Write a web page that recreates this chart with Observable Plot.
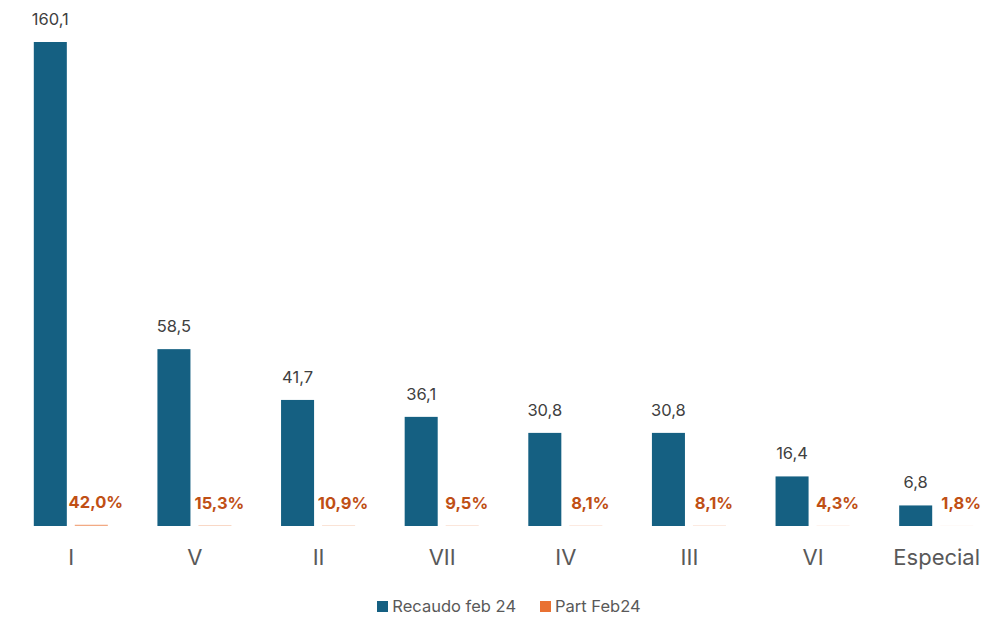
<!DOCTYPE html>
<html>
<head>
<meta charset="utf-8">
<script src="https://cdn.jsdelivr.net/npm/d3@7"></script>
<script src="https://cdn.jsdelivr.net/npm/@observablehq/plot@0.6"></script>
<style>
  html, body { margin: 0; padding: 0; background: #fff; }
  #chart svg { display: block; }
  .legend { display: flex; justify-content: center; align-items: center; gap: 24px;
    font-family: Inter, "Open Sans", sans-serif; font-size: 16.5px; color: #595959; margin-top: 8px; padding-left: 26px; }
  .legend span.item { display: flex; align-items: center; gap: 4px; }
  .legend i { display: inline-block; width: 11px; height: 11px; }
</style>
</head>
<body>
<div id="chart"></div>
<script>
const categories = ["I", "V", "II", "VII", "IV", "III", "VI", "Especial"];
const recaudo = [160.1, 58.5, 41.7, 36.1, 30.8, 30.8, 16.4, 6.8];
const part = [42.0, 15.3, 10.9, 9.5, 8.1, 8.1, 4.3, 1.8];
const seriesNames = ["Recaudo feb 24", "Part Feb24"];
const colors = ["#156082", "#E97132"];

const dataBlue = categories.map((c, i) => ({cat: c, v: recaudo[i]}));
const dataOrange = categories.map((c, i) => ({cat: c, v: part[i] / 100, p: part[i]}));

const fmt1 = d3.format(".1f");
const comma = v => fmt1(v).replace(".", ",");
const font = "Inter, 'Open Sans', sans-serif";

const chart = Plot.plot({
  width: 992,
  height: 588,
  marginTop: 0, marginBottom: 0, marginLeft: 0, marginRight: 0,
  style: {fontFamily: font, background: "#fff"},
  x: {domain: categories, range: [9, 998], padding: 0, round: false, axis: null},
  y: {domain: [0, 160.1], range: [526, 42], axis: null},
  marks: [
    Plot.barY(dataBlue, {x: "cat", y: "v", fill: colors[0], insetLeft: 24.8, insetRight: 65.8}),
    Plot.ruleY([0], {x1: 9, x2: 992, stroke: "#D9D9D9", strokeWidth: 1.5}),
    Plot.barY(dataOrange, {x: "cat", y: "v", fill: colors[1], fillOpacity: 0.6, insetLeft: 65.8, insetRight: 24.8}),
    Plot.text(dataBlue, {x: "cat", y: "v", text: d => comma(d.v), dx: -21, dy: -23,
      fill: "#404040", fontSize: 16.5, fontFamily: font}),
    Plot.text(dataOrange, {x: "cat", y: "v", text: d => comma(d.p) + "%", dx: 24.5, dy: -22.5,
      fill: "#C04F15", fontSize: 16.5, fontWeight: "bold", fontFamily: font}),
    Plot.text(categories, {x: d => d, y: 0, text: d => d, dy: 31,
      fill: "#595959", fontSize: 22, fontFamily: font})
  ]
});
document.getElementById("chart").appendChild(chart);

const legend = document.createElement("div");
legend.className = "legend";
seriesNames.forEach((name, i) => {
  const item = document.createElement("span");
  item.className = "item";
  const sw = document.createElement("i");
  sw.style.background = colors[i];
  item.appendChild(sw);
  item.appendChild(document.createTextNode(name));
  legend.appendChild(item);
});
document.body.appendChild(legend);
</script>
</body>
</html>
